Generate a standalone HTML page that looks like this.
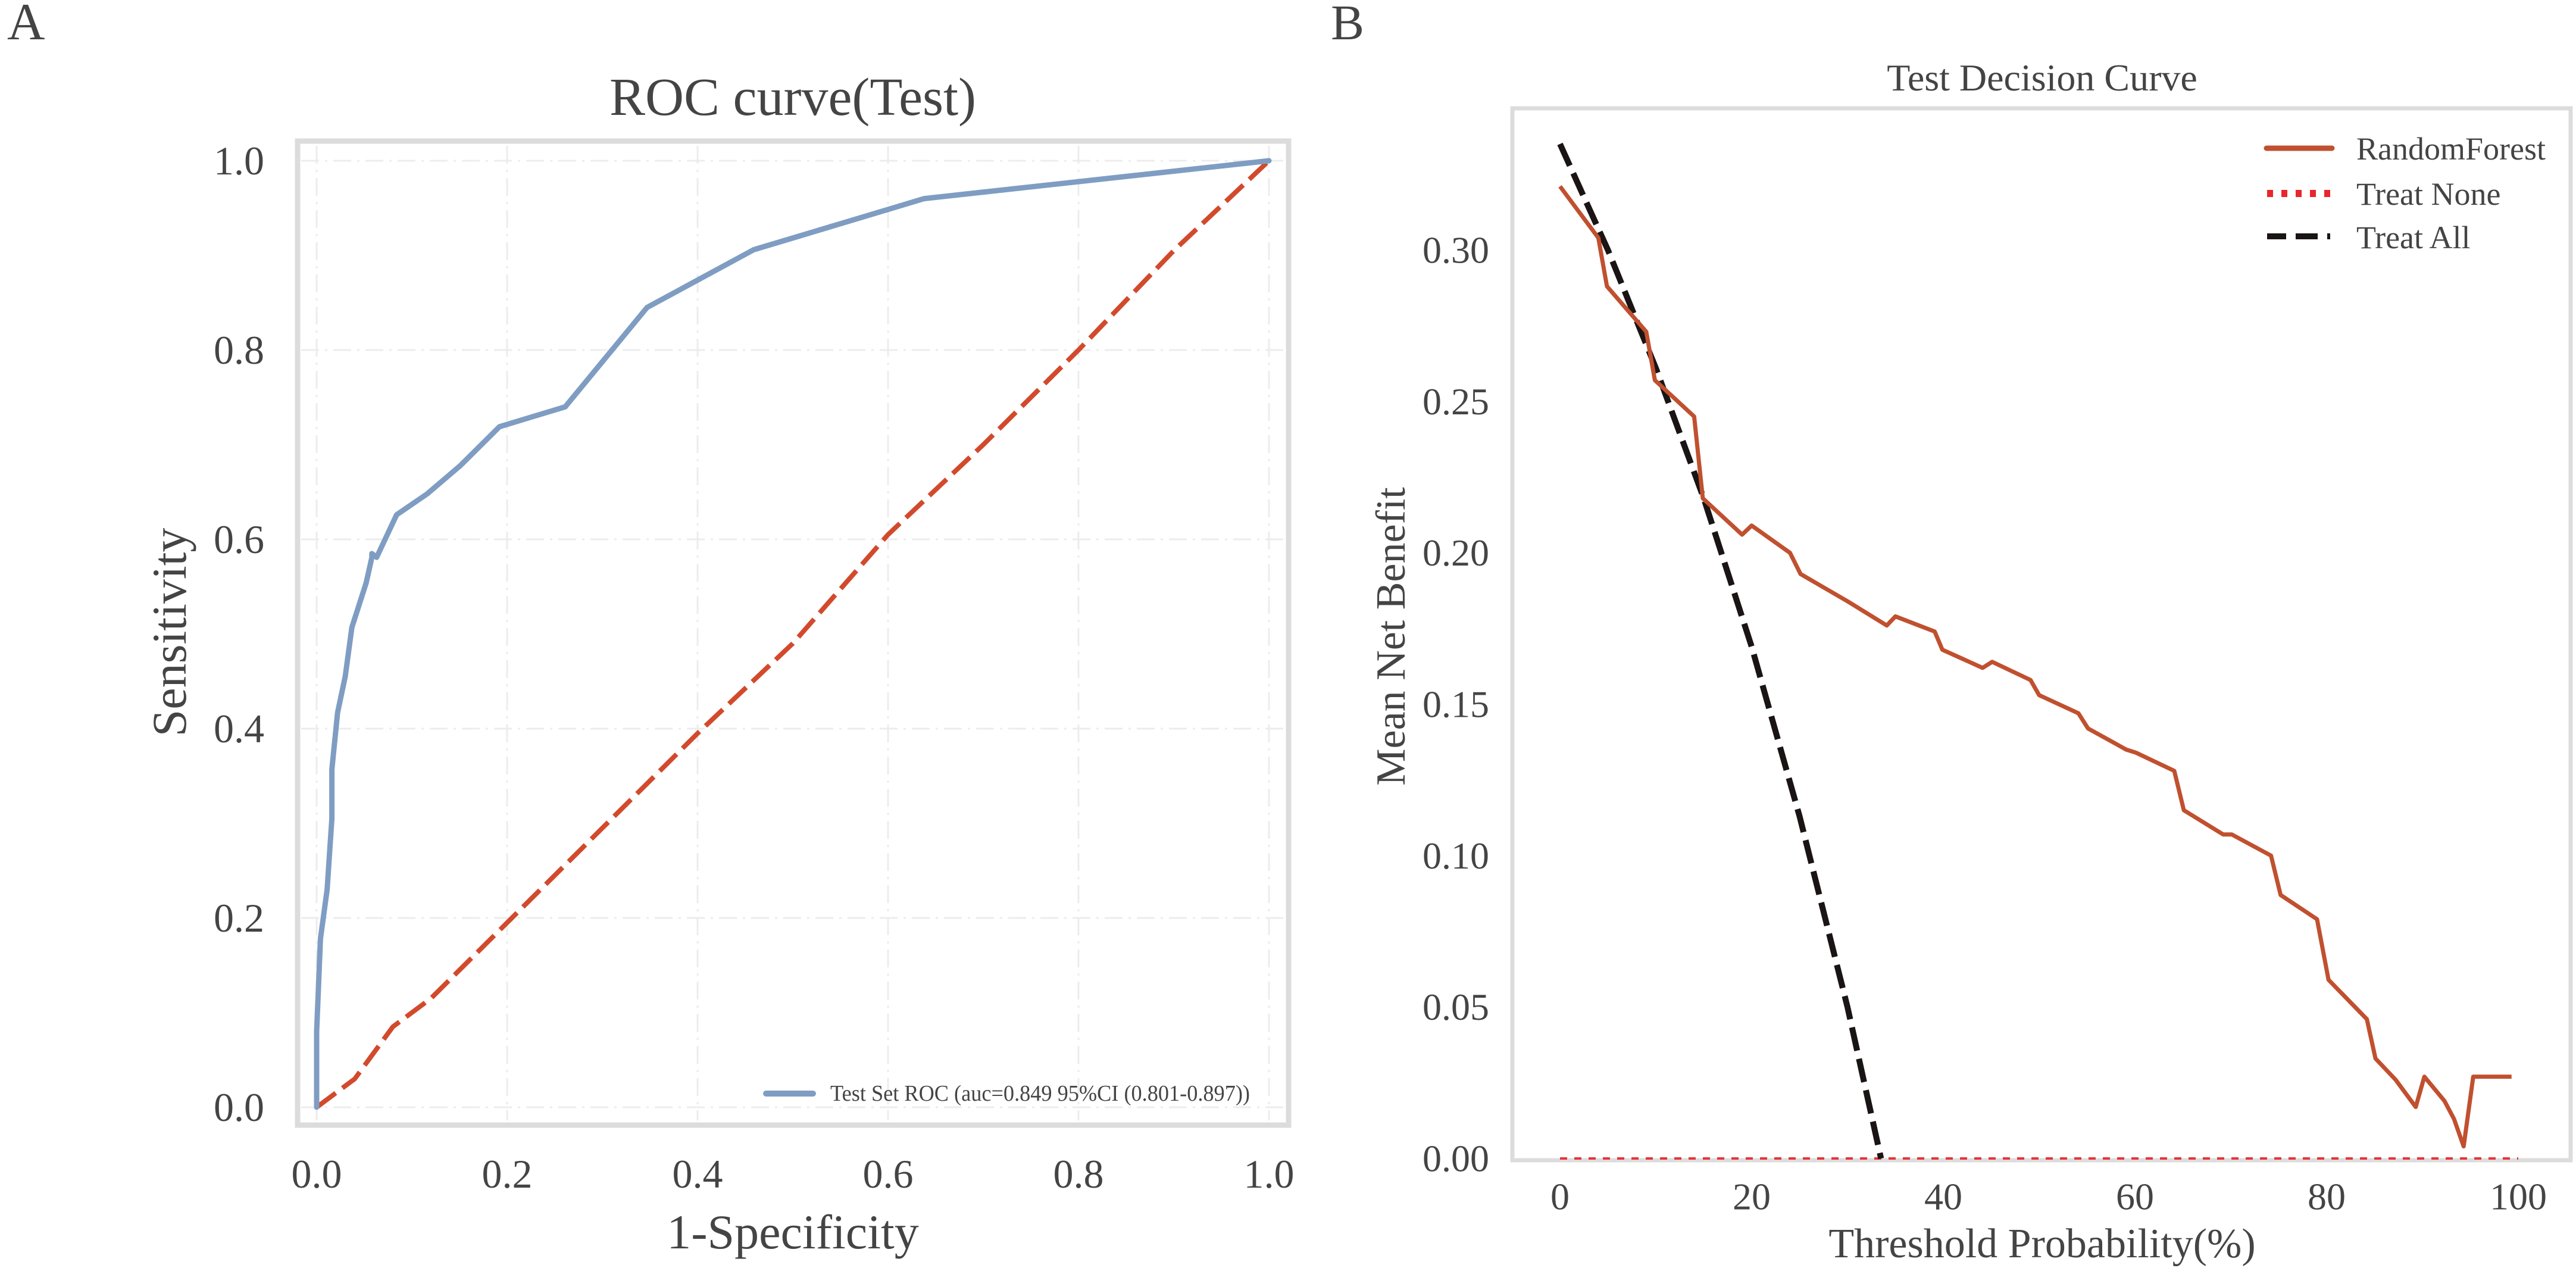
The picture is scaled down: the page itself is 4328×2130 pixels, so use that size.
<!DOCTYPE html>
<html><head><meta charset="utf-8"><style>
html,body{margin:0;padding:0;background:#fff;}
svg{display:block;}
text{font-family:"Liberation Serif",serif;fill:#444;}
</style></head><body>
<svg id="fig" width="4328" height="2130" viewBox="0 0 4328 2130" xmlns="http://www.w3.org/2000/svg">
<g id="panelA"></g>
<g id="panelB"></g>
</svg>
<script>
// ---------- ROC data ----------
const rocFpr = [0,0,0.004,0.011,0.016,0.016,0.022,0.030,0.037,0.052,0.058,0.058,0.063,0.084,0.116,0.151,0.192,0.261,0.347,0.459,0.638,1];
const rocTpr = [0,0.08,0.178,0.23,0.305,0.357,0.417,0.455,0.507,0.554,0.581,0.585,0.581,0.626,0.648,0.678,0.719,0.740,0.845,0.906,0.960,1];
const diagX = [0,0.04,0.08,0.12,0.2,0.3,0.4,0.5,0.6,0.7,0.8,0.9,1];
const diagY = [0,0.03,0.085,0.115,0.195,0.295,0.395,0.49,0.605,0.7,0.8,0.905,1];
const rocTicks = [0,0.2,0.4,0.6,0.8,1.0];
const rocTickLabels = ["0.0","0.2","0.4","0.6","0.8","1.0"];
// ---------- Decision curve data ----------
const dcThresh = [0,4.0,4.9,9.0,9.9,14.0,14.9,19.0,20.0,24.0,25.1,30.0,34.1,35.0,39.1,39.9,44.1,45.1,49.1,50.0,54.1,55.1,59.1,60.1,64.1,65.1,69.2,70.1,74.2,75.2,79.0,80.2,84.2,85.1,87.2,89.3,90.2,92.3,93.3,94.3,95.3,99.3];
const dcRF = [0.321,0.304,0.288,0.273,0.257,0.245,0.218,0.206,0.209,0.200,0.193,0.184,0.176,0.179,0.174,0.168,0.162,0.164,0.158,0.153,0.147,0.142,0.135,0.134,0.128,0.115,0.107,0.107,0.100,0.087,0.079,0.059,0.046,0.033,0.026,0.017,0.027,0.019,0.013,0.004,0.027,0.027];
const allThresh = [0,5,10,15,20,25,30,33.5];
const allNB = [0.335,0.300,0.261,0.218,0.169,0.113,0.050,0.0];
const noneThresh = [0,100];
const noneNB = [0,0];
const dcXTicks = [0,20,40,60,80,100];
const dcYTicks = [0,0.05,0.10,0.15,0.20,0.25,0.30];
const dcYTickLabels = ["0.00","0.05","0.10","0.15","0.20","0.25","0.30"];

const NS="http://www.w3.org/2000/svg";
function mk(parent,tag,attrs,txt){const e=document.createElementNS(NS,tag);for(const k in attrs)e.setAttribute(k,attrs[k]);if(txt!==undefined)e.textContent=txt;parent.appendChild(e);return e;}

// ===== Panel A =====
const A=document.getElementById('panelA');
const ax=v=>532+v*1600, ay=v=>1860-v*1590;
let t;
t=mk(A,'text',{x:12,y:66,'font-size':88});t.textContent='A';


rocTicks.forEach(v=>{
  let g=mk(A,'line',{x1:ax(v),x2:ax(v),y1:245,y2:1882,stroke:'#ececec','stroke-width':3,'stroke-dasharray':'30 10 4 10'});
  
  
  g=mk(A,'line',{x1:506,x2:2160,y1:ay(v),y2:ay(v),stroke:'#ececec','stroke-width':3,'stroke-dasharray':'30 10 4 10'});
  
  
});
t=mk(A,'rect',{x:500,y:237,width:1665,height:1653,fill:'none',stroke:'#dcdcdc','stroke-width':9});


t=mk(A,'polyline',{points:diagX.map((x,i)=>ax(x)+','+ay(diagY[i])).join(' '),fill:'none',stroke:'#d24a2c','stroke-width':8,'stroke-dasharray':'40 14'});


t=mk(A,'polyline',{points:rocFpr.map((x,i)=>ax(x)+','+ay(rocTpr[i])).join(' '),fill:'none',stroke:'#7f9dc2','stroke-width':9,'stroke-linejoin':'round','stroke-linecap':'round'});


rocTicks.forEach((v,i)=>{
  let e=mk(A,'text',{x:ax(v),y:1972,'font-size':68,'text-anchor':'middle','dominant-baseline':'central'},rocTickLabels[i]);
  
  
  e=mk(A,'text',{x:444,y:ay(v),'font-size':68,'text-anchor':'end','dominant-baseline':'central'},rocTickLabels[i]);
  
  
});
t=mk(A,'text',{x:1332,y:193,'font-size':90,'text-anchor':'middle'},'ROC curve(Test)');


t=mk(A,'text',{x:1332,y:2097,'font-size':82,'text-anchor':'middle'},'1-Specificity');


t=mk(A,'text',{x:0,y:0,'font-size':82,'text-anchor':'middle',transform:'translate(312,1062) rotate(-90)'},'Sensitivity');


t=mk(A,'line',{x1:1287,x2:1366,y1:1837,y2:1837,stroke:'#7f9dc2','stroke-width':10,'stroke-linecap':'round'});


t=mk(A,'text',{x:1395,y:1849,'font-size':38,textLength:705,lengthAdjust:'spacingAndGlyphs'},'Test Set ROC (auc=0.849 95%CI (0.801-0.897))');



// ===== Panel B =====
const B=document.getElementById('panelB');
const bx=v=>2621+v*16.1, by=v=>1946-v*5087;
t=mk(B,'text',{x:2236,y:66,'font-size':84});t.textContent='B';


t=mk(B,'rect',{x:2541,y:182,width:1778,height:1767,fill:'none',stroke:'#dcdcdc','stroke-width':7});


t=mk(B,'polyline',{points:noneThresh.map((x,i)=>bx(x)+','+by(noneNB[i])).join(' '),fill:'none',stroke:'#e8333a','stroke-width':4,'stroke-dasharray':'12 12'});


t=mk(B,'polyline',{points:allThresh.map((x,i)=>bx(x)+','+by(allNB[i])).join(' '),fill:'none',stroke:'#1a1414','stroke-width':10,'stroke-dasharray':'40 14'});


t=mk(B,'polyline',{points:dcThresh.map((x,i)=>bx(x)+','+by(dcRF[i])).join(' '),fill:'none',stroke:'#c0502f','stroke-width':7,'stroke-linejoin':'round'});


dcXTicks.forEach(v=>{
  const e=mk(B,'text',{x:bx(v),y:2010,'font-size':64,'text-anchor':'middle','dominant-baseline':'central'},String(v));
  
  
});
dcYTicks.forEach((v,i)=>{
  const e=mk(B,'text',{x:2502,y:by(v),'font-size':64,'text-anchor':'end','dominant-baseline':'central'},dcYTickLabels[i]);
  
  
});
t=mk(B,'text',{x:3431,y:152,'font-size':64,'text-anchor':'middle'},'Test Decision Curve');


t=mk(B,'text',{x:3431,y:2112,'font-size':70,'text-anchor':'middle'},'Threshold Probability(%)');


t=mk(B,'text',{x:0,y:0,'font-size':70,'text-anchor':'middle',transform:'translate(2360,1069) rotate(-90)'},'Mean Net Benefit');


t=mk(B,'line',{x1:3808,x2:3918,y1:249,y2:249,stroke:'#c0502f','stroke-width':9,'stroke-linecap':'round'});


t=mk(B,'text',{x:3959,y:268,'font-size':54},'RandomForest');


t=mk(B,'line',{x1:3809,x2:3916,y1:325,y2:325,stroke:'#e8262b','stroke-width':12,'stroke-dasharray':'10 14'});


t=mk(B,'text',{x:3959,y:344,'font-size':54},'Treat None');


t=mk(B,'line',{x1:3809,x2:3916,y1:397,y2:397,stroke:'#1a1414','stroke-width':10,'stroke-dasharray':'32 16 37 16 5 20'});


t=mk(B,'text',{x:3959,y:417,'font-size':54},'Treat All');


</script>
</body></html>
